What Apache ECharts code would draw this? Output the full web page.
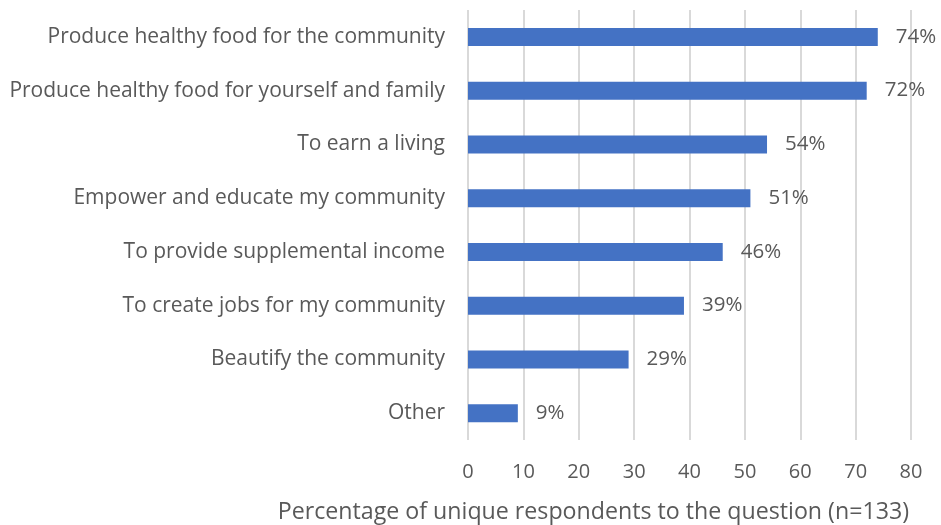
<!DOCTYPE html>
<html>
<head>
<meta charset="utf-8">
<script src="https://cdn.jsdelivr.net/npm/echarts@6/dist/echarts.min.js"></script>
<style>
  html, body { margin: 0; padding: 0; background: #fff; }
  #chart { width: 941px; height: 525px; }
</style>
</head>
<body>
<div id="chart"></div>
<script>
// Reasons for farming, ordered top to bottom
const categories = [
  'Produce healthy food for the community',
  'Produce healthy food for yourself and family',
  'To earn a living',
  'Empower and educate my community',
  'To provide supplemental income',
  'To create jobs for my community',
  'Beautify the community',
  'Other'
];
const percentages = [74, 72, 54, 51, 46, 39, 29, 9];
const xTicks = [0, 10, 20, 30, 40, 50, 60, 70, 80];
const axisTitle = 'Percentage of unique respondents to the question (n=133)';

const FONT = '"Open Sans", sans-serif';
const TEXT = '#595959';

const chart = echarts.init(document.getElementById('chart'), null, { renderer: 'canvas' });
chart.setOption({
  animation: false,
  backgroundColor: '#ffffff',
  title: {
    text: axisTitle,
    right: 27,
    top: 496,
    textStyle: { fontFamily: FONT, fontSize: 23.2, fontWeight: 'normal', color: TEXT }
  },
  grid: { left: 468, right: 30, top: 10, bottom: 85, containLabel: false },
  xAxis: {
    type: 'value',
    min: xTicks[0],
    max: xTicks[xTicks.length - 1],
    interval: xTicks[1] - xTicks[0],
    axisLine: { show: false },
    axisTick: { show: false },
    axisLabel: { fontFamily: FONT, fontSize: 20, color: TEXT, margin: 22 },
    splitLine: { show: true, lineStyle: { color: '#d9d9d9', width: 2 } }
  },
  yAxis: {
    type: 'category',
    inverse: true,
    data: categories,
    axisLine: { show: false },
    axisTick: { show: false },
    axisLabel: { fontFamily: FONT, fontSize: 21, color: TEXT, margin: 23 }
  },
  series: [{
    type: 'bar',
    data: percentages,
    barWidth: 18,
    itemStyle: { color: '#4472c4' },
    label: {
      show: true,
      position: 'right',
      distance: 18,
      formatter: p => p.value + '%',
      fontFamily: FONT,
      fontSize: 20.5,
      color: TEXT
    }
  }]
});
</script>
</body>
</html>
